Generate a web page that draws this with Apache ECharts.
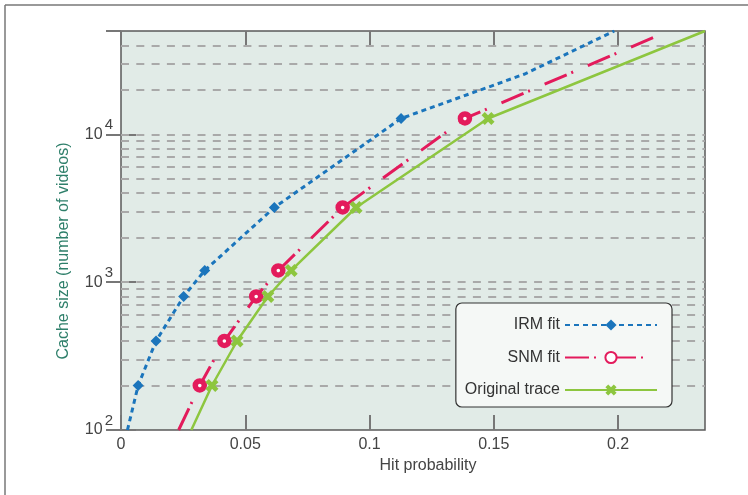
<!DOCTYPE html>
<html>
<head>
<meta charset="utf-8">
<script src="https://cdn.jsdelivr.net/npm/echarts@6/dist/echarts.min.js"></script>
<style>
  html, body { margin: 0; padding: 0; background: #fff; }
  #chart { width: 748px; height: 495px; }
</style>
</head>
<body>
<div id="chart"></div>
<script>
// hit probability vs cache size
const irmHit   = [0.0026, 0.0069, 0.0141, 0.0252, 0.0337, 0.0617, 0.1127, 0.1625, 0.1985];
const irmSize  = [100, 200, 400, 800, 1200, 3200, 12800, 25600, 50000];
const snmHit   = [0.0232, 0.0317, 0.0416, 0.0544, 0.0633, 0.0892, 0.1384, 0.2153];
const snmSize  = [100, 200, 400, 800, 1200, 3200, 12800, 46000];
const origHit  = [0.0283, 0.0366, 0.0467, 0.0591, 0.0685, 0.0946, 0.1477, 0.235];
const origSize = [100, 200, 400, 800, 1200, 3200, 12800, 50000];
// sizes that carry a marker
const markedSizes = [200, 400, 800, 1200, 3200, 12800];
// dashed horizontal grid lines
const gridSizes = [200, 300, 400, 500, 600, 700, 800, 900, 1000,
  2000, 3000, 4000, 5000, 6000, 7000, 8000, 9000, 10000, 20000, 30000, 40000];

const font = "'Liberation Sans', Arial, sans-serif";

function pts(xs, ys) {
  return xs.map((x, i) => {
    const item = { value: [x, ys[i]] };
    if (markedSizes.indexOf(ys[i]) < 0) item.symbol = 'none';
    return item;
  });
}

const chart = echarts.init(document.getElementById('chart'));

const xBase = {
  type: 'value', min: 0, max: 0.235, interval: 0.05,
  splitLine: { show: false },
  axisLine: { show: false },
  axisTick: { inside: true, length: 15, lineStyle: { color: '#777', width: 2 } }
};
const yBase = {
  type: 'log', logBase: 10, min: 100, max: 50000,
  splitLine: { show: false },
  axisLine: { show: false },
  axisTick: { inside: true, length: 15, lineStyle: { color: '#777', width: 2 } }
};

const option = {
  animation: false,
  backgroundColor: '#fff',
  grid: {
    left: 121, right: 43, top: 31, bottom: 65,
    show: true, backgroundColor: '#e1ebe7',
    borderColor: '#5a5a5a', borderWidth: 1.5
  },
  graphic: [
    { type: 'line', shape: { x1: 5, y1: 5, x2: 748, y2: 5 }, style: { stroke: '#777', lineWidth: 1.5 } },
    { type: 'line', shape: { x1: 5, y1: 5, x2: 5, y2: 495 }, style: { stroke: '#777', lineWidth: 1.5 } }
  ],
  xAxis: [
    Object.assign({}, xBase, {
      position: 'bottom',
      name: 'Hit probability', nameLocation: 'middle', nameGap: 23,
      nameTextStyle: { fontFamily: font, fontSize: 16, color: '#444', padding: [0, 0, 0, 30] },
      axisLabel: { showMaxLabel: false, margin: 7, fontFamily: font, fontSize: 16, color: '#444' }
    }),
    Object.assign({}, xBase, { position: 'top', axisLabel: { show: false } })
  ],
  yAxis: [
    Object.assign({}, yBase, {
      position: 'left',
      name: 'Cache size (number of videos)', nameLocation: 'middle', nameGap: 49,
      nameTextStyle: { fontFamily: font, fontSize: 16, color: '#2e7f6a', padding: [0, 41, 0, 0] },
      axisLabel: {
        showMaxLabel: false, margin: 8, padding: [0, 0, 8, 0],
        formatter: v => '{b|10}{s|' + Math.round(Math.log10(v)) + '}',
        rich: {
          b: { fontFamily: font, fontSize: 16, color: '#444', padding: [8, 0, 0, 0] },
          s: { fontFamily: font, fontSize: 15, color: '#444', padding: [0, 0, 10, 2] }
        }
      }
    }),
    Object.assign({}, yBase, { position: 'right', axisLabel: { show: false } })
  ],
  legend: {
    data: ['IRM fit', 'SNM fit', 'Original trace'],
    orient: 'vertical', align: 'right',
    right: 76, top: 303, z: 20,
    padding: [14, 14, 9, 9],
    itemWidth: 92, itemHeight: 14, itemGap: 16.5,
    backgroundColor: '#f5f8f6', borderColor: '#333', borderWidth: 1.2, borderRadius: 6,
    textStyle: { fontFamily: font, fontSize: 16, color: '#333' }
  },
  series: [
    {
      type: 'line', silent: true, z: 1, data: [],
      markLine: {
        silent: true, z: 1, symbol: ['none', 'none'],
        label: { show: false },
        lineStyle: { color: '#a9a9a9', width: 2.2, type: [8, 7.3] },
        data: gridSizes.map(v => ({ yAxis: v }))
      }
    },
    {
      name: 'IRM fit', type: 'line', z: 3,
      data: pts(irmHit, irmSize),
      symbol: 'diamond', symbolSize: 11,
      lineStyle: { color: '#1b75bc', width: 3, type: [5, 4] },
      itemStyle: { color: '#1b75bc' }
    },
    {
      name: 'SNM fit', type: 'line', z: 4,
      data: pts(snmHit, snmSize),
      symbol: 'circle', symbolSize: 9,
      lineStyle: { color: '#e31b5c', width: 3, type: [24, 5, 2, 16] },
      itemStyle: { color: '#fff', borderColor: '#e31b5c', borderWidth: 5.5 }
    },
    {
      name: 'Original trace', type: 'line', z: 5,
      data: pts(origHit, origSize),
      symbol: 'path://M0,3 L3,0 L6,3 L9,0 L12,3 L9,6 L12,9 L9,12 L6,9 L3,12 L0,9 L3,6 Z',
      symbolSize: 13,
      lineStyle: { color: '#8dc63f', width: 2.5 },
      itemStyle: { color: '#8dc63f' }
    }
  ]
};

chart.setOption(option);
</script>
</body>
</html>
